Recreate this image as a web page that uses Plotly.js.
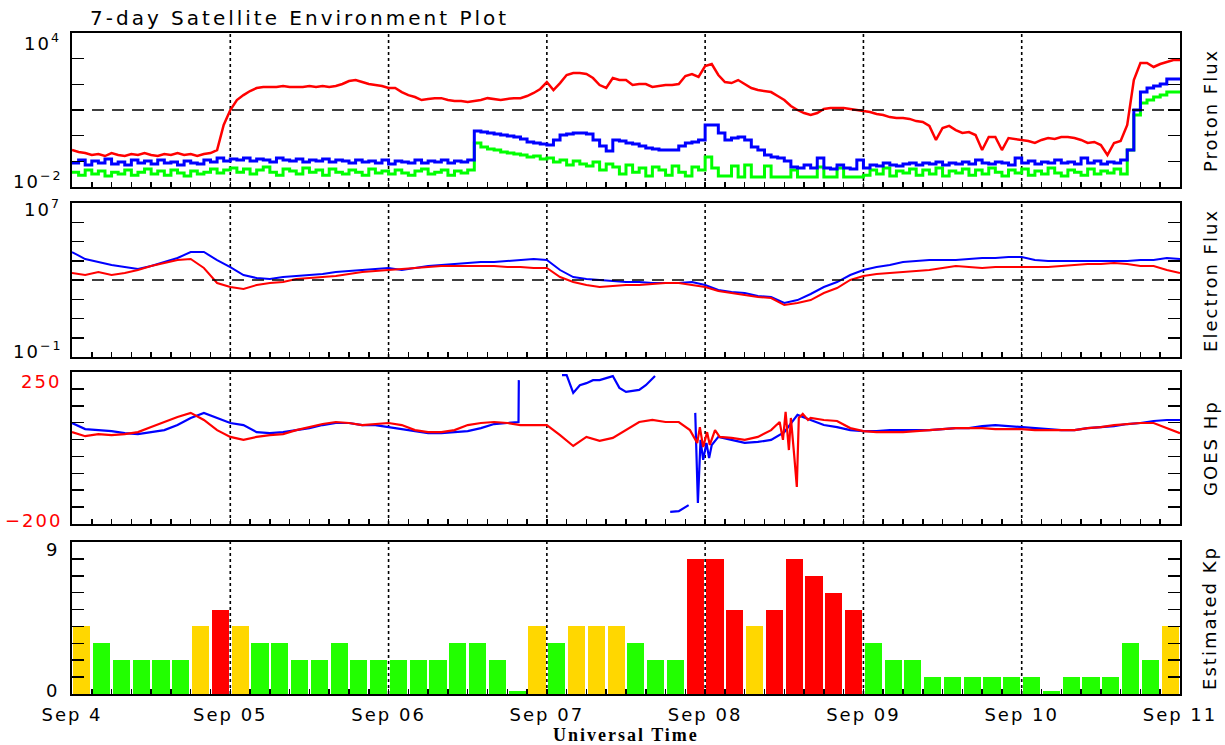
<!DOCTYPE html>
<html>
<head>
<meta charset="utf-8">
<script src="https://cdn.plot.ly/plotly-3.0.1.min.js"></script>
<style>
  html, body { margin: 0; padding: 0; background: #fff; }
  #chart { width: 1225px; height: 745px; }
  .main-svg text { letter-spacing: 2px; }
  .gtitle { letter-spacing: 3px !important; }
</style>
</head>
<body>
<div id="chart"></div>
<script>
// ---------------- DATA ----------------
// time axis: hours since Sep 4 00:00 UT
const dayTicks = [0, 24, 48, 72, 96, 120, 144, 168];
const dayLabels = ["Sep 4", "Sep 05", "Sep 06", "Sep 07", "Sep 08", "Sep 09", "Sep 10", "Sep 11"];

// Proton flux (pfu), hourly samples starting Sep 4 00 UT
const protonRed = [0.276,0.231,0.211,0.177,0.193,0.161,0.211,0.177,0.161,0.193,
0.177,0.211,0.177,0.161,0.193,0.177,0.211,0.177,0.193,0.161,
0.193,0.211,0.276,2.6,10,24.5,38,55,72,79,
79,79,86,79,79,79,86,79,86,79,
86,103,135,147,123,103,94,86,72,72,
50,38,32,24.5,27,29,29,24.5,22.4,22.4,
20.5,22.4,24.5,29,27,24.5,27,29,29,35,
46,66,123,60,112,231,276,276,252,176,
94,72,176,147,147,94,103,103,79,86,
94,94,103,211,252,193,518,620,231,123,
112,147,103,72,60,55,50,35,24.5,14.3,
10,7.6,6.4,7.6,10.9,12,12,12,10.9,10,
9.1,8.4,7.0,6.4,5.3,4.9,4.9,4.5,3.7,3.4,
2.4,0.68,2.0,2.4,1.66,1.27,1.39,1.06,0.276,0.89,
0.89,0.276,0.81,0.74,0.68,0.62,0.52,0.68,0.81,0.74,
0.89,0.89,0.81,0.68,0.52,0.57,0.43,0.177,0.52,0.62,
2.6,147,678,678,473,620,741,885,885];

const protonBlue = [0.086,0.113,0.072,0.103,0.086,0.123,0.079,0.094,0.072,0.113,
0.086,0.103,0.079,0.113,0.086,0.094,0.072,0.103,0.086,0.079,
0.113,0.094,0.135,0.103,0.123,0.113,0.135,0.103,0.123,0.113,
0.094,0.135,0.113,0.103,0.123,0.094,0.113,0.103,0.123,0.094,
0.113,0.103,0.086,0.113,0.094,0.103,0.086,0.113,0.079,0.103,
0.094,0.086,0.113,0.086,0.103,0.094,0.113,0.086,0.103,0.094,
0.113,1.52,1.39,1.27,1.16,1.06,0.97,0.89,0.74,0.57,
0.52,0.47,0.43,0.68,1.06,1.16,1.27,1.27,1.16,0.68,
0.40,0.252,0.68,0.62,0.52,0.47,0.40,0.33,0.30,0.276,
0.276,0.276,0.40,0.52,0.57,0.68,2.6,2.6,1.27,0.68,
0.81,0.89,0.68,0.36,0.276,0.177,0.148,0.135,0.103,0.060,
0.055,0.072,0.055,0.135,0.055,0.050,0.072,0.055,0.050,0.113,
0.055,0.072,0.066,0.086,0.072,0.066,0.079,0.086,0.072,0.086,
0.079,0.094,0.072,0.086,0.079,0.094,0.079,0.113,0.086,0.079,
0.094,0.086,0.072,0.135,0.086,0.103,0.079,0.094,0.086,0.113,
0.086,0.094,0.079,0.135,0.086,0.103,0.079,0.094,0.086,0.113,
0.276,10,50,72,86,103,161,161,147];

const protonGreen = [0.038,0.029,0.046,0.032,0.042,0.027,0.038,0.032,0.046,0.029,
0.038,0.050,0.032,0.042,0.029,0.046,0.035,0.027,0.042,0.032,
0.038,0.050,0.035,0.046,0.055,0.038,0.050,0.032,0.046,0.060,
0.038,0.029,0.050,0.042,0.032,0.055,0.038,0.046,0.029,0.050,
0.038,0.032,0.046,0.038,0.029,0.050,0.035,0.042,0.032,0.046,
0.035,0.029,0.042,0.050,0.032,0.038,0.046,0.029,0.042,0.035,
0.046,0.52,0.36,0.30,0.276,0.231,0.211,0.193,0.177,0.148,
0.161,0.123,0.135,0.094,0.113,0.072,0.103,0.079,0.066,0.094,
0.046,0.079,0.060,0.032,0.072,0.038,0.055,0.027,0.060,0.046,
0.029,0.066,0.038,0.027,0.060,0.046,0.148,0.055,0.027,0.027,
0.066,0.0245,0.072,0.0245,0.0245,0.066,0.0245,0.0245,0.0245,0.046,
0.0245,0.0245,0.0245,0.060,0.0245,0.0245,0.055,0.0245,0.0245,0.0245,
0.029,0.046,0.032,0.055,0.027,0.042,0.035,0.050,0.029,0.046,
0.032,0.055,0.027,0.042,0.035,0.050,0.029,0.046,0.032,0.055,
0.038,0.027,0.046,0.035,0.050,0.029,0.042,0.032,0.055,0.035,
0.027,0.046,0.038,0.029,0.050,0.032,0.042,0.035,0.050,0.032,
0.276,6.4,18.7,24.5,32,38,50,50,46];

const protonThreshold = [10, 10];

// Electron flux, 2-hourly samples
const electronBlue = [2.85e4,1.23e4,8.6e3,6.0e3,4.7e3,3.7e3,5.3e3,8.6e3,1.39e4,2.85e4,
2.85e4,1.09e4,4.7e3,1.82e3,1.27e3,1.13e3,1.43e3,1.61e3,1.82e3,2.05e3,
2.61e3,2.94e3,3.3e3,3.7e3,4.2e3,3.3e3,4.2e3,5.3e3,6.0e3,6.8e3,
7.6e3,8.6e3,8.6e3,9.7e3,1.09e4,1.23e4,1.09e4,3.3e3,1.43e3,1.13e3,
1000,887,787,787,698,698,698,787,550,303,
238,211,148,131,64,91,188,433,787,1.82e3,
3.3e3,4.7e3,6.0e3,8.6e3,9.7e3,1.09e4,1.09e4,1.09e4,1.23e4,1.39e4,
1.39e4,1.57e4,1.57e4,1.09e4,9.7e3,9.7e3,9.7e3,9.7e3,9.7e3,9.7e3,
9.7e3,1.09e4,1.09e4,1.39e4,1.23e4];

const electronRed = [2.31e3,1.82e3,2.61e3,1.82e3,2.31e3,3.3e3,5.3e3,7.6e3,1.09e4,1.23e4,
4.2e3,698,433,340,550,698,787,1.13e3,1.27e3,1.43e3,
1.61e3,2.05e3,2.61e3,2.94e3,3.3e3,3.7e3,4.2e3,4.7e3,5.3e3,5.3e3,
5.3e3,5.3e3,5.3e3,4.7e3,4.7e3,4.2e3,4.2e3,1.43e3,787,550,
433,488,550,550,620,698,698,550,433,268,
211,166,131,116,50,64,91,211,384,1000,
1.61e3,2.05e3,2.31e3,2.61e3,2.94e3,3.3e3,4.2e3,5.3e3,4.7e3,4.2e3,
4.7e3,4.7e3,4.7e3,4.7e3,4.7e3,5.3e3,6.0e3,6.8e3,6.8e3,7.6e3,
6.8e3,5.3e3,5.3e3,3.3e3,2.31e3];

const electronThreshold = [1000, 1000];

// GOES Hp (nT)
const hpRedT = [0,2,4,6,8,10,12,14,16,18,20,22,24,26,28,30,32,34,36,38,40,42,44,46,48,50,52,54,56,58,60,62,64,66,68,70,72,74,76,78,80,82,84,86,88,90,92,
93.7,94.8,95.2,95.7,96.3,96.7,97.5,98.2,100,102,104,106,107.3,107.8,108.2,108.7,109,109.5,109.9,110.2,110.8,111.6,112,114,116,118,120,
122,124,126,128,130,132,134,136,138,140,142,144,146,148,150,152,154,156,158,160,162,164,166,168];
const hpRed = [72,60,66,63,66,72,87,102,117,129,108,78,58,49,58,63,66,78,87,96,102,99,93,96,99,93,78,72,72,78,93,99,102,99,93,93,93,63,31,58,46,55,78,102,108,102,102,
78,40,87,28,72,34,78,58,55,49,58,78,102,49,132,19,114,4,-90,114,126,108,114,108,105,84,75,
72,72,72,75,78,81,84,84,84,81,81,81,78,78,78,78,84,87,93,96,99,99,84,69];

const hpBlueT = [0,2,4,6,8,10,12,14,16,18,20,22,24,26,28,30,32,34,36,38,40,42,44,46,48,50,52,54,56,58,60,62,64,66,67.7,67.75,67.8,
74.3,75,76,77,78,79,80,81,82,83,84,85,86,87,88,88.4,88.5,
90.7,92,93.5,93.6,
94.5,94.9,95.3,95.7,96.2,96.6,97,98,100,102,104,106,108,110,112,114,116,118,120,122,124,126,128,130,132,134,136,138,140,142,144,146,148,150,152,154,156,158,160,162,164,166,168];
const hpBlue = [99,81,78,75,69,66,72,78,93,114,129,114,99,93,72,69,72,78,84,93,99,99,93,93,87,81,75,69,69,72,75,84,96,99,102,226,null,
241,241,188,211,217,226,226,232,238,203,191,194,197,211,232,238,null,
-164,-162,-144,null,
129,-138,49,-10,40,-5,34,58,49,40,43,49,72,123,108,93,87,78,75,75,78,78,78,78,81,84,84,90,93,90,87,84,81,78,78,84,87,90,96,99,105,108,108];

// Estimated Kp, 3-hourly
const kpValues = [4,3,2,2,2,2,4,5,
4,3,3,2,2,3,2,2,
2,2,2,3,3,2,0.2,4,
3,4,4,4,3,2,2,8,
8,5,4,5,8,7,6,5,
3,2,2,1,1,1,1,1,
1,0.2,1,1,1,3,2,4];

// Axis end labels (top, bottom) per panel
const yEndLabels = [
  ['10<sup>4</sup>', '10<sup>−2</sup>'],
  ['10<sup>7</sup>', '10<sup>−1</sup>'],
  ['250', '−200'],
  ['9', '0']
];
const panelTitles = ['Proton Flux', 'Electron Flux', 'GOES Hp', 'Estimated Kp'];

// ---------------- STYLE ----------------
const RED = '#ff0000', BLUE = '#0000ff', GREEN = '#00ff00';
const KP_GREEN = '#22ff00', KP_YELLOW = '#ffd700', KP_RED = '#ff0000';
const FONT = 'DejaVu Sans';
const labelShift = [[5, -7], [9, -7], [3, -9], [5, -9]]; // pixel nudges of end labels
const kpColors = kpValues.map(v => v >= 5 ? KP_RED : (v >= 4 ? KP_YELLOW : KP_GREEN));

const traces = [
  {x0: 0, dx: 1, y: protonRed, xaxis: 'x', yaxis: 'y', mode: 'lines', line: {color: RED, width: 2.5}},
  {x0: 0, dx: 1, y: protonGreen, xaxis: 'x', yaxis: 'y', mode: 'lines', line: {color: GREEN, width: 3, shape: 'hv'}},
  {x0: 0, dx: 1, y: protonBlue, xaxis: 'x', yaxis: 'y', mode: 'lines', line: {color: BLUE, width: 3, shape: 'hv'}},
  {x: [0, 168], y: protonThreshold, xaxis: 'x', yaxis: 'y', mode: 'lines', line: {color: 'black', width: 1.5, dash: '12px,8px'}},

  {x0: 0, dx: 2, y: electronBlue, xaxis: 'x2', yaxis: 'y2', mode: 'lines', line: {color: BLUE, width: 2}},
  {x0: 0, dx: 2, y: electronRed, xaxis: 'x2', yaxis: 'y2', mode: 'lines', line: {color: RED, width: 2}},
  {x: [0, 168], y: electronThreshold, xaxis: 'x2', yaxis: 'y2', mode: 'lines', line: {color: 'black', width: 1.5, dash: '12px,8px'}},

  {x: hpBlueT, y: hpBlue, xaxis: 'x3', yaxis: 'y3', mode: 'lines', connectgaps: false, line: {color: BLUE, width: 2.2}},
  {x: hpRedT, y: hpRed, xaxis: 'x3', yaxis: 'y3', mode: 'lines', line: {color: RED, width: 2.2}},

  {type: 'bar', x0: 1.5, dx: 3, y: kpValues, xaxis: 'x4', yaxis: 'y4', width: 2.6,
   marker: {color: kpColors, line: {width: 0}}}
];
traces.forEach(t => { t.showlegend = false; t.hoverinfo = 'skip'; });

function xAxis(anchor, labels) {
  const ax = {
    anchor: anchor, domain: [0, 1], range: [0, 168],
    tickmode: 'array', tickvals: dayTicks, showticklabels: labels,
    ticks: 'inside', ticklen: 5, tickwidth: 1.5, tickcolor: 'black',
    minor: {tickmode: 'linear', tick0: 0, dtick: 3, ticks: 'inside', ticklen: 5, tickwidth: 1.5, tickcolor: 'black', showgrid: false},
    showline: true, linewidth: 2, linecolor: 'black', mirror: true,
    showgrid: false, zeroline: false, fixedrange: true
  };
  if (labels) {
    ax.ticktext = dayLabels;
    ax.ticklabelstandoff = 3;
    ax.tickfont = {family: FONT, size: 18, color: 'black'};
  }
  return ax;
}
function yAxis(anchor, domain, extra) {
  return Object.assign({
    anchor: anchor, domain: domain,
    ticks: 'inside', ticklen: 12, tickwidth: 1.5, tickcolor: 'black',
    showline: true, linewidth: 2, linecolor: 'black', mirror: 'ticks',
    showgrid: false, zeroline: false, fixedrange: true, showticklabels: false
  }, extra);
}

const doms = [[0.767, 1.0], [0.5098, 0.7428], [0.2572, 0.4871], [0.0, 0.2300]];
const yNames = ['y', 'y2', 'y3', 'y4'];

const shapes = [];
yNames.forEach((ya, i) => {
  const xa = i === 0 ? 'x' : 'x' + (i + 1);
  dayTicks.slice(1, 7).forEach(d => {
    shapes.push({type: 'line', xref: xa, yref: ya + ' domain', x0: d, x1: d, y0: 0, y1: 1,
      line: {color: 'black', width: 1.6, dash: 'dot'}, layer: i === 3 ? 'above' : 'below'});
  });
});

const annotations = [];
yNames.forEach((ya, i) => {
  const col = i === 2 ? '#ff0000' : 'black';
  annotations.push({text: yEndLabels[i][0], xref: 'paper', yref: ya + ' domain', x: -0.011, y: 1,
    xanchor: 'right', yanchor: 'top', yshift: labelShift[i][0], showarrow: false,
    font: {family: FONT, size: 18, color: col}});
  annotations.push({text: yEndLabels[i][1], xref: 'paper', yref: ya + ' domain', x: -0.011, y: 0,
    xanchor: 'right', yanchor: 'bottom', yshift: labelShift[i][1], showarrow: false,
    font: {family: FONT, size: 18, color: col}});
  annotations.push({text: panelTitles[i], xref: 'paper', yref: ya + ' domain', x: 1.027, y: 0.5,
    xanchor: 'center', yanchor: 'middle', textangle: -90, showarrow: false,
    font: {family: FONT, size: 18, color: 'black'}});
});
annotations.push({text: '<b>Universal Time</b>', xref: 'paper', yref: 'paper', x: 0.5, y: -0.062,
  xanchor: 'center', yanchor: 'middle', showarrow: false,
  font: {family: 'Liberation Serif', size: 18, color: 'black'}});

const layout = {
  width: 1225, height: 745,
  margin: {l: 72, r: 45, t: 33, b: 51},
  paper_bgcolor: 'white', plot_bgcolor: 'white',
  title: {text: '7-day Satellite Environment Plot', xref: 'container', yref: 'container',
          x: 90 / 1225, xanchor: 'left', y: 1 - 18 / 745, yanchor: 'middle',
          font: {family: FONT, size: 20, color: 'black'}},
  xaxis: xAxis('y', false),
  xaxis2: xAxis('y2', false),
  xaxis3: xAxis('y3', false),
  xaxis4: xAxis('y4', true),
  yaxis: yAxis('x', doms[0], {type: 'log', range: [-2, 4], tickmode: 'array', tickvals: [0.01, 0.1, 1, 10, 100, 1000, 10000]}),
  yaxis2: yAxis('x2', doms[1], {type: 'log', range: [-1, 7], tickmode: 'array', tickvals: [0.1, 1, 10, 100, 1e3, 1e4, 1e5, 1e6, 1e7]}),
  yaxis3: yAxis('x3', doms[2], {range: [-200, 250], tickmode: 'linear', tick0: -200, dtick: 50}),
  yaxis4: yAxis('x4', doms[3], {range: [0, 9], tickmode: 'linear', tick0: 0, dtick: 1}),
  bargap: 0,
  shapes: shapes,
  annotations: annotations
};

Plotly.newPlot('chart', traces, layout, {staticPlot: true, displayModeBar: false});
</script>
</body>
</html>
